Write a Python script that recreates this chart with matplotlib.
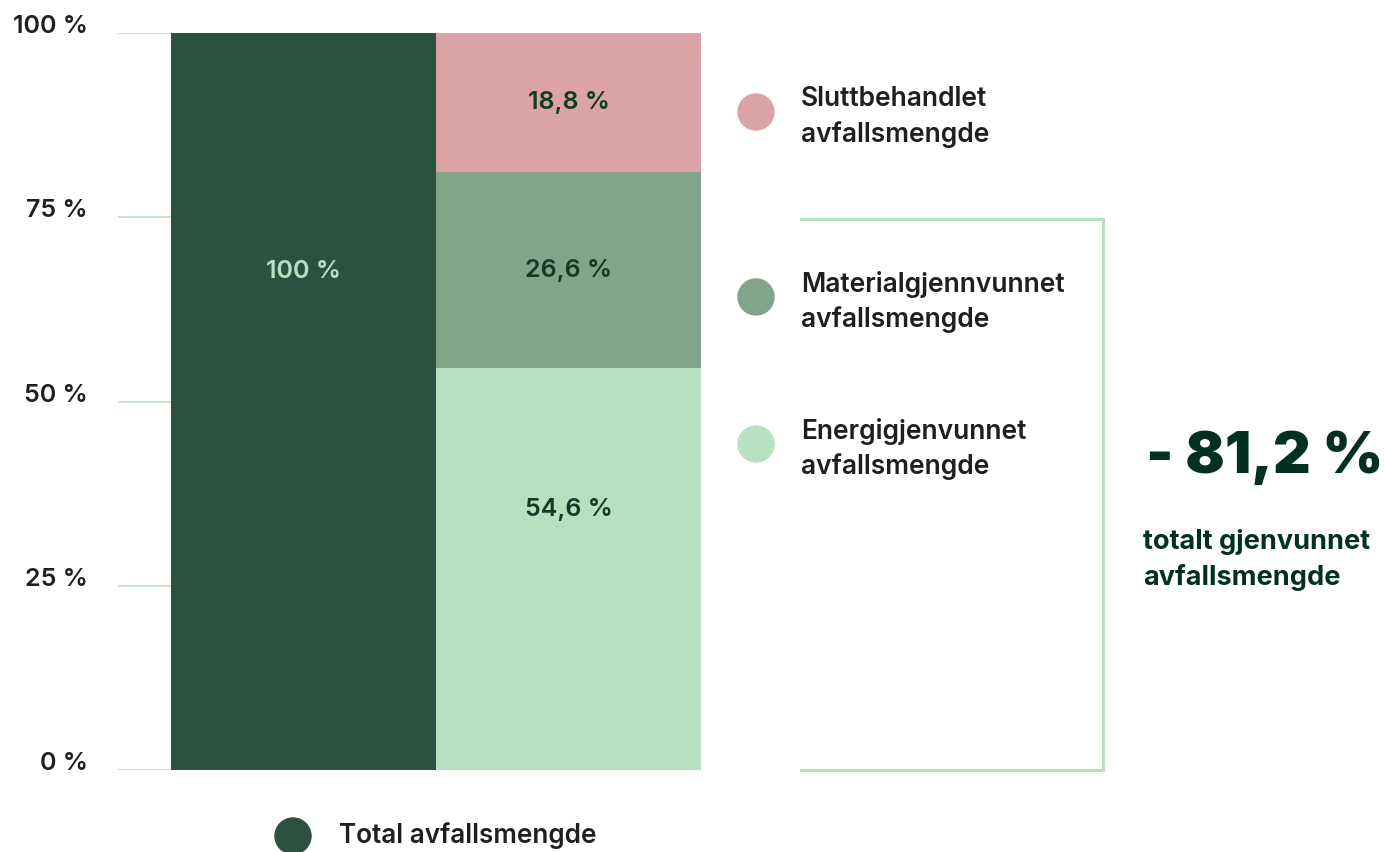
import matplotlib
matplotlib.use('Agg')
import matplotlib.pyplot as plt
import matplotlib.transforms as mtrans
from matplotlib.patches import Circle
from matplotlib.lines import Line2D

plt.rcParams['font.family'] = ['Inter', 'DejaVu Sans']

# data
categories = ['Total', 'Gjenvunnet']
total = [100, 0]
energi = [0, 54.6]
material = [0, 26.6]
slutt = [0, 18.8]
yticks = [0, 25, 50, 75, 100]
ytick_labels = ['0 %', '25 %', '50 %', '75 %', '100 %']
legend_labels = ['Sluttbehandlet\navfallsmengde', 'Materialgjennvunnet\navfallsmengde',
                 'Energigjenvunnet\navfallsmengde']
total_label = 'Total avfallsmengde'
big_value = '- 81,2 %'
big_text = 'totalt gjenvunnet\navfallsmengde'

c_dark = '#2c5140'
c_pink = '#dca3a6'
c_mid = '#82a48a'
c_light = '#b8dfc0'
c_grid = '#c6e5cb'
c_txt = '#1f1f1f'
c_val = '#0f3b28'

W, H = 1384, 852
fig = plt.figure(figsize=(W / 100, H / 100), dpi=100)
ax = fig.add_axes([118 / W, 82 / H, (701 - 118) / W, (770 - 33) / H])

x = range(len(categories))
ax.bar(x, total, width=1.0, color=c_dark, zorder=3)
ax.bar(x, energi, width=1.0, color=c_light, zorder=3)
ax.bar(x, material, width=1.0, bottom=energi, color=c_mid, zorder=3)
bot2 = [a + b for a, b in zip(energi, material)]
ax.bar(x, slutt, width=1.0, bottom=bot2, color=c_pink, zorder=3)

ax.set_xlim(-0.7, 1.5)
ax.set_ylim(0, 100)
for t in yticks:
    ax.axhline(t, color=c_grid, lw=1.5, zorder=1)
ax.set_yticks([])
ax.set_xticks([])
for s in ax.spines.values():
    s.set_visible(False)

# tick labels sit on the gridlines, right edge ~30px left of axes
tl = mtrans.offset_copy(ax.get_yaxis_transform(), fig=fig, x=-30, y=0, units='dots')
for t, lab in zip(yticks, ytick_labels):
    ax.text(0, t, lab, ha='right', va='baseline', fontsize=18,
            fontweight='semibold', color=c_txt, transform=tl)

# value labels
ax.text(0, 67.6, '100 %', ha='center', va='center', fontsize=18,
        fontweight='semibold', color=c_light, zorder=4)
ax.text(1, 90.6, '18,8 %', ha='center', va='center', fontsize=18,
        fontweight='semibold', color=c_val, zorder=4)
ax.text(1, 67.8, '26,6 %', ha='center', va='center', fontsize=18,
        fontweight='semibold', color=c_val, zorder=4)
ax.text(1, 35.3, '54,6 %', ha='center', va='center', fontsize=18,
        fontweight='semibold', color=c_val, zorder=4)

# overlay in pixel coords for legend and bracket
ov = fig.add_axes([0, 0, 1, 1], zorder=5)
ov.set_xlim(0, W)
ov.set_ylim(H, 0)
ov.axis('off')
ov.patch.set_alpha(0)

for cy, col, lab in zip([112, 297, 444], [c_pink, c_mid, c_light], legend_labels):
    ov.add_patch(Circle((756, cy), 18, color=col))
    ov.text(801, cy + 5, lab, ha='left', va='center', fontsize=19,
            fontweight='semibold', color=c_txt, linespacing=1.4)

ov.add_patch(Circle((293, 836), 18, color=c_dark))
ov.text(339, 836, total_label, ha='left', va='center', fontsize=18.8,
        fontweight='semibold', color=c_txt)

ov.add_line(Line2D([801, 1103, 1103, 801], [219, 219, 770, 770],
                   color=c_light, lw=2.2, solid_joinstyle='miter'))

ov.text(1146, 458, big_value, ha='left', va='center', fontsize=42,
        fontweight='black', color='#03301f')
ov.text(1143, 560, big_text, ha='left', va='center', fontsize=19.5,
        fontweight='bold', color='#03301f', linespacing=1.45)

fig.savefig('out.png', dpi=100, facecolor='white')
